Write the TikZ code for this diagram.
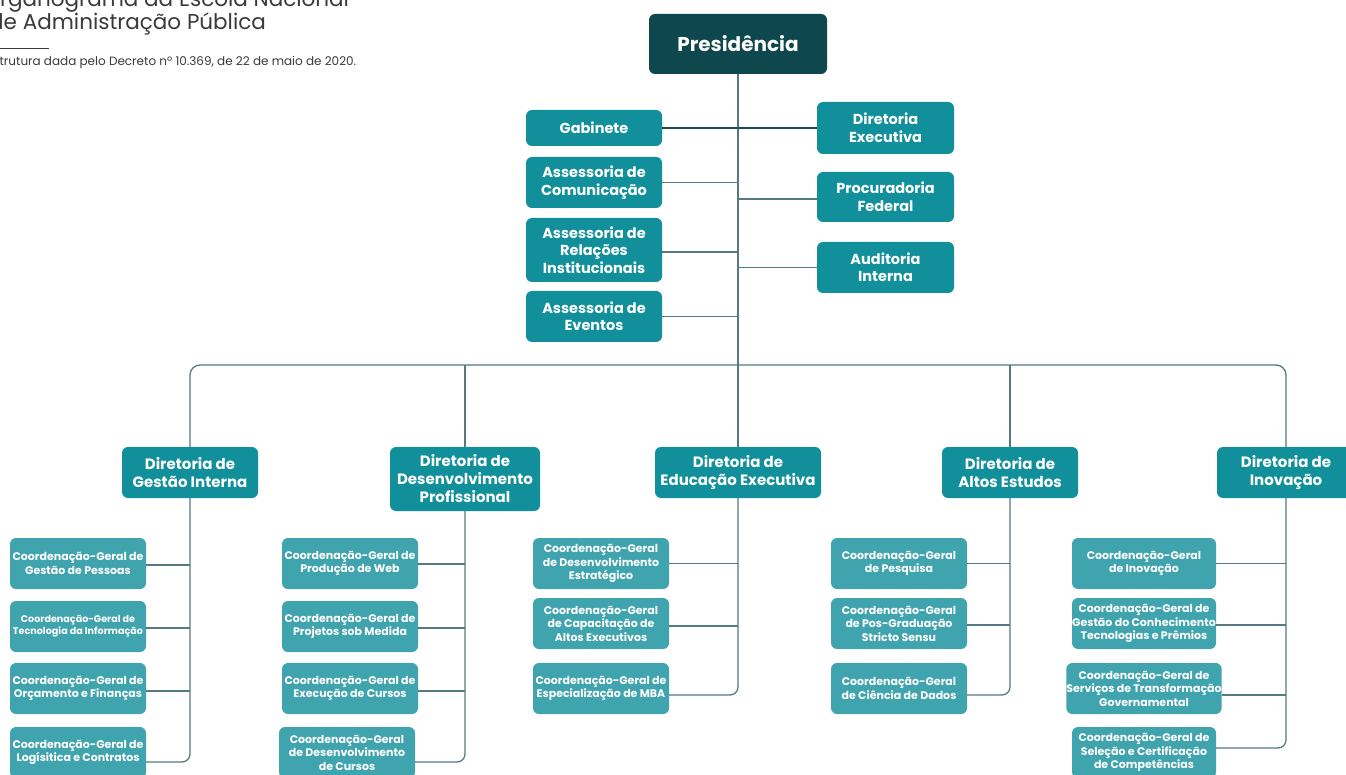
\documentclass[tikz,border=0pt]{standalone}
\usepackage{fontspec}
\setmainfont{Poppins}
\usetikzlibrary{calc}
\definecolor{presc}{HTML}{0E474D}
\definecolor{tealA}{HTML}{11909B}
\definecolor{tealB}{HTML}{40A4AE}
\definecolor{linec}{HTML}{557A80}
\definecolor{darkline}{HTML}{1E4D53}
\definecolor{titlec}{HTML}{3A3A3A}
\tikzset{
  box/.style={rounded corners=6pt, text=white, align=center, inner sep=0pt, outer sep=0pt},
  topbox/.style={box, fill=tealA, font=\bfseries\fontsize{14.5}{17.5}\selectfont, minimum width=136pt},
  dirbox/.style={box, fill=tealA, font=\bfseries\fontsize{15}{18}\selectfont, minimum height=51pt},
  subbox/.style={box, fill=tealB, font=\bfseries\fontsize{11}{13.5}\selectfont, minimum width=136pt, minimum height=51pt},
  conn/.style={draw=linec, line width=1.3pt},
  titletext/.style={anchor=base west, inner sep=0pt, text=titlec},
}
\begin{document}
\begin{tikzpicture}[x=1pt,y=-1pt]
\useasboundingbox (0,0) rectangle (1346,775);
\clip (0,0) rectangle (1346,775);
\fill[white] (0,0) rectangle (1346,775);

% header
\node[titletext, font=\fontsize{21.5}{23}\selectfont] (t1) at (-17,7) {Organograma da Escola Nacional};
\node[titletext, font=\fontsize{21.5}{23}\selectfont] (t2) at (-11,30) {de Administração Pública};
\coordinate (sepA) at (0,48);
\coordinate (sepB) at (49,48);
\draw[titlec, line width=0.6pt] (sepA) -- (sepB);
\node[titletext, font=\fontsize{12}{14}\selectfont] (t3) at (-13,66) {Estrutura dada pelo Decreto nº 10.369, de 22 de maio de 2020.};

% top level
\node[box, fill=presc, font=\bfseries\fontsize{20}{24}\selectfont, minimum width=178pt, minimum height=60pt] (pres) at (738,44) {Presidência};

\node[topbox, minimum height=36pt] (gab) at (594,128) {Gabinete};
\node[topbox, minimum height=51pt] (acom) at (594,182.5) {Assessoria de\\Comunicação};
\node[topbox, minimum height=64pt] (arel) at (594,250) {Assessoria de\\Relações\\Institucionais};
\node[topbox, minimum height=51pt] (aev) at (594,316.5) {Assessoria de\\Eventos};

\node[topbox, minimum width=137pt, minimum height=52pt] (dex) at (885.5,128) {Diretoria\\Executiva};
\node[topbox, minimum width=137pt, minimum height=50pt] (proc) at (885.5,197) {Procuradoria\\Federal};
\node[topbox, minimum width=137pt, minimum height=51pt] (aud) at (885.5,267.5) {Auditoria\\Interna};

% directorias
\node[dirbox, minimum width=136pt] (dgi) at (190,472.5) {Diretoria de\\Gestão Interna};
\node[dirbox, minimum width=150pt, minimum height=64pt] (dgp) at (465,479) {Diretoria de\\Desenvolvimento\\Profissional};
\node[dirbox, minimum width=166pt] (dee) at (738,472.5) {Diretoria de\\Educação Executiva};
\node[dirbox, minimum width=136pt] (dae) at (1010,472.5) {Diretoria de\\Altos Estudos};
\node[dirbox, minimum width=138pt] (din) at (1286,472.5) {Diretoria de\\Inovação};

% Gestão Interna
\node[subbox] (g1) at (78,563.5) {Coordenação-Geral de\\Gestão de Pessoas};
\node[subbox, font=\bfseries\fontsize{9.6}{12}\selectfont] (g2) at (78,626.5) {Coordenação-Geral de\\Tecnologia da Informação};
\node[subbox] (g3) at (78,688.5) {Coordenação-Geral de\\Orçamento e Finanças};
\node[subbox] (g4) at (78,752.5) {Coordenação-Geral de\\Logísitica e Contratos};

% Desenvolvimento Profissional
\node[subbox] (p1) at (350,563.5) {Coordenação-Geral de\\Produção de Web};
\node[subbox] (p2) at (350,626.5) {Coordenação-Geral de\\Projetos sob Medida};
\node[subbox] (p3) at (350,688.5) {Coordenação-Geral de\\Execução de Cursos};
\node[subbox] (p4) at (347,752.5) {Coordenação-Geral\\de Desenvolvimento\\de Cursos};

% Educação Executiva
\node[subbox] (e1) at (601,563.5) {Coordenação-Geral\\de Desenvolvimento\\Estratégico};
\node[subbox] (e2) at (601,623.5) {Coordenação-Geral\\de Capacitação de\\Altos Executivos};
\node[subbox] (e3) at (601,688.5) {Coordenação-Geral de\\Especialização de MBA};

% Altos Estudos
\node[subbox] (a1) at (899,563.5) {Coordenação-Geral\\de Pesquisa};
\node[subbox] (a2) at (899,623.5) {Coordenação-Geral\\de Pos-Graduação\\Stricto Sensu};
\node[subbox] (a3) at (899,688.5) {Coordenação-Geral\\de Ciência de Dados};

% Inovação
\node[subbox, minimum width=144pt] (i1) at (1144,563.5) {Coordenação-Geral\\de Inovação};
\node[subbox, minimum width=144pt] (i2) at (1144,623.5) {Coordenação-Geral de\\Gestão do Conhecimento\\Tecnologias e Prêmios};
\node[subbox, minimum width=144pt] (i3) at (1144,688.5) {Coordenação-Geral de\\Serviços de Transformação\\Governamental};
\node[subbox, minimum width=144pt] (i4) at (1144,752.5) {Coordenação-Geral de\\Seleção e Certificação\\de Competências};

% connectors top
\coordinate (bus) at (738,365);
\draw[conn] (pres.south) -- (dee.north);
\draw[draw=darkline, line width=1.3pt] (gab.east) -- (dex.west);
\draw[conn] (acom.east) -- (acom.east -| pres.south);
\draw[conn] (arel.east |- 0,252) -- (pres.south |- 0,252);
\draw[conn] (aev.east) -- (aev.east -| pres.south);
\draw[conn] (proc.west |- 0,199) -- (pres.south |- 0,199);
\draw[conn] (aud.west) -- (aud.west -| pres.south);

% bus
\draw[conn, rounded corners=10pt] (dgi.north) |- (bus) -| (din.north);
\draw[conn] (dgp.north) -- (dgp.north |- bus);
\draw[conn] (dae.north) -- (dae.north |- bus);

% columns
\draw[conn, rounded corners=8pt] (dgi.south) |- (g4.east |- 0,762);
\draw[conn] (g1.east |- 0,565) -- (dgi.south |- 0,565);
\draw[conn] (g2.east |- 0,628) -- (dgi.south |- 0,628);
\draw[conn] (g3.east |- 0,691) -- (dgi.south |- 0,691);

\draw[conn, rounded corners=8pt] (dgp.south) |- (p4.east |- 0,762);
\draw[conn] (p1.east |- 0,564) -- (dgp.south |- 0,564);
\draw[conn] (p2.east |- 0,628) -- (dgp.south |- 0,628);
\draw[conn] (p3.east |- 0,691) -- (dgp.south |- 0,691);

\draw[conn, rounded corners=8pt] (dee.south) |- (e3.east |- 0,695);
\draw[conn] (e1.east) -- (e1.east -| dee.south);
\draw[conn] (e2.east |- 0,626) -- (dee.south |- 0,626);

\draw[conn, rounded corners=8pt] (dae.south) |- (a3.east |- 0,695);
\draw[conn] (a1.east) -- (a1.east -| dae.south);
\draw[conn] (a2.east |- 0,625) -- (dae.south |- 0,625);

\draw[conn, rounded corners=8pt] (din.south) |- (i4.east |- 0,748);
\draw[conn] (i1.east) -- (i1.east -| din.south);
\draw[conn] (i2.east |- 0,625) -- (din.south |- 0,625);
\draw[conn] (i3.east |- 0,695) -- (din.south |- 0,695);
\end{tikzpicture}
\end{document}
